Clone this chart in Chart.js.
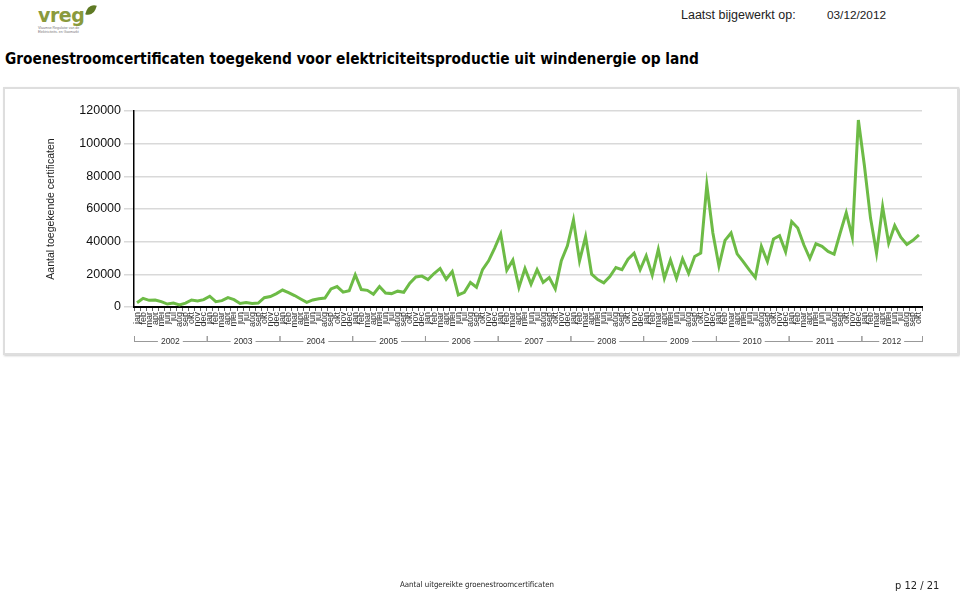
<!DOCTYPE html>
<html>
<head>
<meta charset="utf-8">
<script src="https://cdn.jsdelivr.net/npm/chart.js@4.4.0/dist/chart.umd.min.js"></script>
<style>
  body { margin: 0; width: 960px; height: 595px; background: #fff; position: relative; overflow: hidden; font-family: 'Liberation Sans', Arial, sans-serif; }
  .logo { position: absolute; left: 38px; top: 4px; }
  .logo .word { font: bold 19px 'DejaVu Sans', sans-serif; color: #8a9a3c; letter-spacing: -0.5px; }
  .logo .leaf { position: absolute; left: 49px; top: 0px; width: 8px; height: 12px; background: #5f7a24; border-radius: 8px 0 8px 0; transform: rotate(20deg); }
  .logo .sub { font-size: 3.5px; color: #777; line-height: 4px; }
  .updated { position: absolute; top: 8px; left: 681px; font-size: 12.5px; color: #222; }
  .date { position: absolute; top: 8px; left: 827px; font-size: 11.8px; color: #222; }
  .title { position: absolute; top: 50px; left: 5px; font: bold 15.3px 'DejaVu Sans Condensed', 'DejaVu Sans', sans-serif; color: #000; white-space: nowrap; }
  .box { position: absolute; left: 3px; top: 87px; width: 952px; height: 264px; border: 2px solid #dedede; box-shadow: 1px 1px 2px #ccc; }
  canvas { position: absolute; left: 0; top: 0; }
  .footer { position: absolute; top: 580px; left: 400px; font: 7.8px 'DejaVu Sans Condensed', 'DejaVu Sans', sans-serif; color: #222; }
  .page { position: absolute; top: 579px; left: 895px; font: 11px 'DejaVu Sans Condensed', 'DejaVu Sans', sans-serif; color: #222; }
</style>
</head>
<body>
<div class="logo"><span class="word">vreg</span><span class="leaf"></span>
  <div class="sub">Vlaamse Regulator van de<br>Elektriciteits- en Gasmarkt</div></div>
<div class="updated">Laatst bijgewerkt op:</div>
<div class="date">03/12/2012</div>
<div class="title">Groenestroomcertificaten toegekend voor elektriciteitsproductie uit windenergie op land</div>
<div class="box"></div>
<canvas id="chart" width="960" height="595"></canvas>
<div class="footer">Aantal uitgereikte groenestroomcertificaten</div>
<div class="page">p 12 / 21</div>

<script>
const years = ['2002', '2003', '2004', '2005', '2006', '2007', '2008', '2009', '2010', '2011', '2012'];
const months = ['jan', 'feb', 'mar', 'apr', 'mei', 'jun', 'jul', 'aug', 'sep', 'okt', 'nov', 'dec'];
const yTicks = [0, 20000, 40000, 60000, 80000, 100000, 120000];

// toegekende certificaten per maand, jan 2002 - okt 2012
const cert2002 = [2600, 5300, 4100, 4300, 3300, 1800, 2400, 1200, 2400, 4300, 3700, 4500];
const cert2003 = [6600, 3300, 3900, 5700, 4500, 2200, 2800, 2200, 2400, 5700, 6400, 8200];
const cert2004 = [10400, 8800, 7000, 4900, 2800, 4300, 5100, 5500, 11100, 12500, 9100, 9900];
const cert2005 = [19700, 10700, 10200, 7800, 12500, 8600, 8200, 9700, 9000, 14600, 18400, 18900];
const cert2006 = [16800, 20500, 23600, 17000, 21700, 7400, 9000, 15000, 12100, 22900, 28300, 36100];
const cert2007 = [44700, 22500, 28700, 11900, 23600, 14000, 22900, 15000, 18000, 11100, 28300, 37500];
const cert2008 = [53300, 28300, 43000, 20100, 16800, 14800, 18600, 24200, 22800, 29300, 33000, 22800];
const cert2009 = [31400, 19500, 35300, 17600, 28700, 17500, 29500, 20600, 30900, 33000, 74800, 45300];
const cert2010 = [25100, 40800, 45300, 32500, 27800, 22700, 18100, 37100, 27800, 41600, 43700, 33800];
const cert2011 = [52300, 48400, 38100, 29700, 38700, 37100, 34000, 32300, 45300, 57700, 42800, 114500];
const cert2012 = [86500, 54600, 33000, 61400, 39100, 49900, 42800, 38300, 40800, 44100];

const certData = [].concat(cert2002, cert2003, cert2004, cert2005, cert2006, cert2007,
    cert2008, cert2009, cert2010, cert2011, cert2012);
const labels = certData.map((v, i) => months[i % 12]);

const fontFam = "'Liberation Sans', Arial, sans-serif";

// jaartallen met haakjes onder de maanden
const yearBrackets = {
    id: 'yearBrackets',
    afterDraw(chart) {
        const xs = chart.scales.x;
        const ctx = chart.ctx;
        const half = (xs.getPixelForValue(1) - xs.getPixelForValue(0)) / 2;
        const yLine = xs.bottom - 6;
        ctx.save();
        ctx.font = `8.5px ${fontFam}`;
        ctx.textAlign = 'center';
        ctx.textBaseline = 'middle';
        ctx.strokeStyle = '#999';
        ctx.lineWidth = 1;
        years.forEach((yr, k) => {
            const first = k * 12;
            const last = Math.min(first + 11, labels.length - 1);
            const x0 = xs.getPixelForValue(first) - half;
            const x1 = xs.getPixelForValue(last) + half;
            const mid = (x0 + x1) / 2;
            const w = ctx.measureText(yr).width / 2 + 3;
            ctx.beginPath();
            ctx.moveTo(x0 + 0.5, yLine - 5);
            ctx.lineTo(x0 + 0.5, yLine + 1);
            ctx.moveTo(x1 + 0.5, yLine - 5);
            ctx.lineTo(x1 + 0.5, yLine + 1);
            ctx.moveTo(x0, yLine + 0.5);
            ctx.lineTo(mid - w, yLine + 0.5);
            ctx.moveTo(mid + w, yLine + 0.5);
            ctx.lineTo(x1, yLine + 0.5);
            ctx.stroke();
            ctx.fillStyle = '#333';
            ctx.fillText(yr, mid, yLine + 1);
        });
        ctx.restore();
    }
};

const createCertChart = function () {
    const data = {
        labels: labels,
        datasets: [
            {
                label: 'Aantal toegekende certificaten',
                data: certData,
                borderColor: '#6dbb46',
                backgroundColor: '#6dbb46',
                borderWidth: 3,
                pointRadius: 0,
                tension: 0,
            },
        ],
    };

    const config = {
        type: 'line',
        data: data,
        plugins: [yearBrackets],
        options: {
            responsive: false,
            animation: false,
            layout: {
                padding: { left: 45, top: 111, right: 38, bottom: 248 },
            },
            plugins: {
                legend: { display: false },
                tooltip: { enabled: false },
            },
            scales: {
                x: {
                    offset: true,
                    grid: {
                        offset: true,
                        drawOnChartArea: false,
                        tickLength: 4,
                        color: '#666',
                    },
                    border: { color: '#000', width: 2 },
                    ticks: {
                        autoSkip: false,
                        maxRotation: 90,
                        minRotation: 90,
                        padding: 1,
                        color: '#333',
                        font: { family: fontFam, size: 9 },
                    },
                    afterFit: function (scale) {
                        scale.height = 40;
                    },
                },
                y: {
                    min: 0,
                    max: 120000,
                    afterBuildTicks: function (scale) {
                        scale.ticks = yTicks.map((v) => ({ value: v }));
                    },
                    grid: {
                        color: '#d9d9d9',
                        lineWidth: 1.5,
                        tickLength: 10,
                    },
                    border: { color: '#000', width: 1.5 },
                    ticks: {
                        padding: 3,
                        color: '#111',
                        font: { family: fontFam, size: 12.5 },
                        callback: function (value) {
                            return String(value);
                        },
                    },
                    title: {
                        display: true,
                        text: 'Aantal toegekende certificaten',
                        color: '#222',
                        font: { family: fontFam, size: 10.5 },
                        padding: { top: 0, bottom: 0 },
                    },
                    afterFit: function (scale) {
                        scale.width = 89;
                    },
                },
            },
        },
    };

    const ctx = document.querySelector('#chart');
    new Chart(ctx, config);
};

const init = function () {
    createCertChart();
};

document.addEventListener('DOMContentLoaded', init);
</script>
</body>
</html>
